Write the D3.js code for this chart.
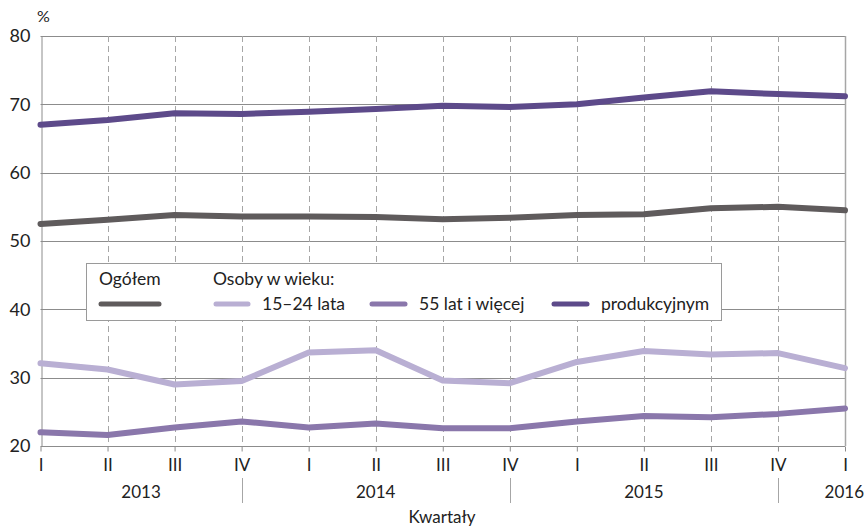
<!DOCTYPE html>
<html>
<head>
<meta charset="utf-8">
<script src="https://cdn.jsdelivr.net/npm/d3@7"></script>
<style>
  body { margin: 0; background: #fff; }
  svg { font-family: Lato, "Open Sans", sans-serif; }
</style>
</head>
<body>
<svg id="chart"></svg>
<script>
// quarters on the x axis
const quarters = ["I", "II", "III", "IV", "I", "II", "III", "IV", "I", "II", "III", "IV", "I"];
const years = ["2013", "2014", "2015", "2016"];
// index ranges on the axis used to place the year labels / separators
const yearFrom = [0, 3, 7, 11];
const yearTo = [3, 7, 11, 12];

const yTicks = [20, 30, 40, 50, 60, 70, 80];

const ogolem =       [52.5, 53.1, 53.8, 53.6, 53.6, 53.5, 53.2, 53.4, 53.8, 53.9, 54.8, 55.0, 54.5];
const wiek1524 =     [32.1, 31.2, 29.0, 29.5, 33.7, 34.0, 29.6, 29.2, 32.3, 33.9, 33.4, 33.6, 31.4];
const wiek55 =       [22.0, 21.6, 22.7, 23.6, 22.7, 23.3, 22.6, 22.6, 23.6, 24.4, 24.2, 24.7, 25.5];
const produkcyjny =  [67.0, 67.7, 68.7, 68.6, 68.9, 69.3, 69.8, 69.6, 70.0, 71.0, 71.9, 71.5, 71.2];

const seriesNames = ["Ogółem", "15–24 lata", "55 lat i więcej", "produkcyjnym"];
const seriesValues = [ogolem, wiek1524, wiek55, produkcyjny];
const seriesColors = ["#5f5b5c", "#b9afd3", "#8a77ab", "#5d4a8a"];

const width = 865, height = 528;
const margin = { top: 36, right: 20, bottom: 82, left: 40.5 };

const svg = d3.select("#chart")
    .attr("width", width)
    .attr("height", height);

const x = d3.scalePoint()
    .domain(d3.range(quarters.length))
    .range([margin.left, width - margin.right]);

const y = d3.scaleLinear()
    .domain([20, 80])
    .range([height - margin.bottom, margin.top]);

const gridColor = "#8c8c8c";

// horizontal grid
svg.append("g")
  .selectAll("line")
  .data(yTicks.slice(1))
  .join("line")
    .attr("x1", margin.left).attr("x2", x(quarters.length - 1))
    .attr("y1", d => Math.round(y(d)) + 0.5).attr("y2", d => Math.round(y(d)) + 0.5)
    .attr("stroke", gridColor)
    .attr("stroke-width", 1);

// dashed verticals
svg.append("g")
  .selectAll("line")
  .data(d3.range(1, quarters.length - 1))
  .join("line")
    .attr("x1", d => Math.round(x(d)) + 0.5).attr("x2", d => Math.round(x(d)) + 0.5)
    .attr("y1", margin.top).attr("y2", y(20))
    .attr("stroke", "#a6a6a6")
    .attr("stroke-dasharray", "6,4");

// right border line
svg.append("line")
    .attr("x1", Math.round(x(quarters.length - 1)) + 0.5)
    .attr("x2", Math.round(x(quarters.length - 1)) + 0.5)
    .attr("y1", margin.top).attr("y2", y(20))
    .attr("stroke", "#a6a6a6").attr("stroke-width", 1.5);

// axes
const xAxis = d3.axisBottom(x).tickSize(5).tickFormat(d => quarters[d]);
const xAxisG = svg.append("g")
    .attr("transform", `translate(0,${Math.round(y(20)) + 0.5})`)
    .call(xAxis);
xAxisG.select(".domain").attr("stroke", gridColor).attr("d", `M${margin.left},0H${x(quarters.length - 1)}`);
xAxisG.selectAll(".tick line").attr("stroke", gridColor);
xAxisG.selectAll(".tick text")
    .attr("y", 12)
    .attr("font-size", 17)
    .attr("fill", "#222")
    .attr("font-family", "Lato, sans-serif");

const yAxis = d3.axisLeft(y).tickValues(yTicks).tickSize(0).tickPadding(10);
const yAxisG = svg.append("g")
    .attr("transform", `translate(${Math.round(margin.left) + 0.5},0)`)
    .call(yAxis);
yAxisG.select(".domain").attr("stroke", gridColor);
yAxisG.selectAll(".tick text")
    .attr("font-size", 18)
    .attr("fill", "#222")
    .attr("x", -11)
    .attr("font-family", "Lato, sans-serif");

svg.append("text")
    .attr("x", 37).attr("y", 22)
    .attr("font-size", 16).attr("fill", "#222")
    .text("%");

// year labels and separators
const yearG = svg.append("g");
years.forEach((yr, i) => {
  const a = x(yearFrom[i]), b = x(yearTo[i]);
  const last = i === years.length - 1;
  yearG.append("text")
      .attr("x", last ? width - 1 : (a + b) / 2)
      .attr("y", 498)
      .attr("text-anchor", last ? "end" : "middle")
      .attr("font-size", 17).attr("fill", "#222")
      .text(yr);
  if (!last) {
    yearG.append("line")
        .attr("x1", Math.round(b) + 0.5).attr("x2", Math.round(b) + 0.5)
        .attr("y1", 478).attr("y2", 503)
        .attr("stroke", "#a6a6a6");
  }
});

svg.append("text")
    .attr("x", 442).attr("y", 523)
    .attr("text-anchor", "middle")
    .attr("font-size", 17).attr("fill", "#222")
    .text("Kwartały");

// series lines
const line = d3.line()
    .x((d, i) => x(i))
    .y(d => y(d));

svg.append("g")
  .selectAll("path")
  .data(seriesValues)
  .join("path")
    .attr("d", line)
    .attr("fill", "none")
    .attr("stroke", (d, i) => seriesColors[i])
    .attr("stroke-width", 6)
    .attr("stroke-linecap", "round")
    .attr("stroke-linejoin", "round");

// legend
const legend = svg.append("g");
legend.append("rect")
    .attr("x", 86.5).attr("y", 263.5)
    .attr("width", 635).attr("height", 57)
    .attr("fill", "#fff")
    .attr("stroke", "#9a9a9a");

legend.append("text")
    .attr("x", 99).attr("y", 285)
    .attr("font-size", 17.5).attr("fill", "#222")
    .text("Ogółem");
legend.append("text")
    .attr("x", 213).attr("y", 285)
    .attr("font-size", 17.5).attr("fill", "#222")
    .text("Osoby w wieku:");

const legX = [99, 214, 370, 552];
const legW = [62, 36, 37, 37];
seriesNames.forEach((name, i) => {
  legend.append("line")
      .attr("x1", legX[i] + 2).attr("x2", legX[i] + legW[i] - 2)
      .attr("y1", 304).attr("y2", 304)
      .attr("stroke", seriesColors[i])
      .attr("stroke-width", 5)
      .attr("stroke-linecap", "round");
  if (i > 0) {
    legend.append("text")
        .attr("x", legX[i] + legW[i] + 12).attr("y", 310)
        .attr("font-size", 17.5).attr("fill", "#222")
        .text(name);
  }
});
</script>
</body>
</html>
